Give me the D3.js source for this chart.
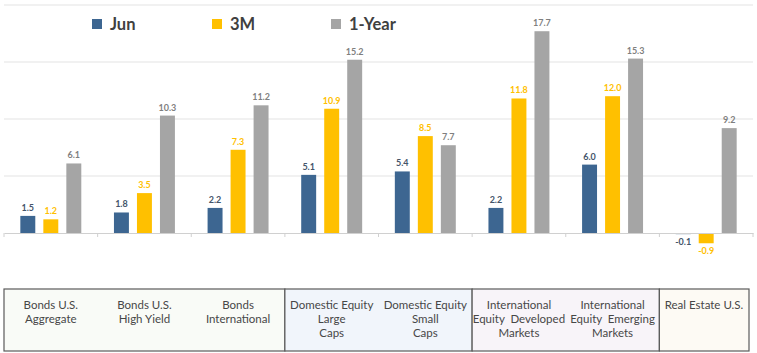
<!DOCTYPE html>
<html>
<head>
<meta charset="utf-8">
<script src="https://cdn.jsdelivr.net/npm/d3@7"></script>
<style>
  body { margin: 0; background: #fff; }
  svg { display: block; font-family: Lato, "Open Sans", sans-serif; }
</style>
</head>
<body>
<div id="chart"></div>
<script>
const categories = ["bondsAgg", "bondsHY", "bondsIntl", "domLarge", "domSmall", "intlDev", "intlEm", "realEstate"];
const seriesNames = ["Jun", "3M", "1-Year"];
const junValues = [1.5, 1.8, 2.2, 5.1, 5.4, 2.2, 6.0, -0.1];
const threeMonthValues = [1.2, 3.5, 7.3, 10.9, 8.5, 11.8, 12.0, -0.9];
const oneYearValues = [6.1, 10.3, 11.2, 15.2, 7.7, 17.7, 15.3, 9.2];
const yTicks = [0, 5, 10, 15, 20];

const categoryLabels = [
  ["Bonds U.S.", "Aggregate"],
  ["Bonds U.S.", "High Yield"],
  ["Bonds", "International"],
  ["Domestic Equity", "Large", "Caps"],
  ["Domestic Equity", "Small", "Caps"],
  ["International", "Equity  Developed", "Markets"],
  ["International", "Equity  Emerging", "Markets"],
  ["Real Estate U.S."]
];
// groups of categories in the table under the chart
const groups = [
  { from: 0, to: 2, fill: "#f9fbf7" },
  { from: 3, to: 4, fill: "#f1f5fb" },
  { from: 5, to: 6, fill: "#f8f4f9" },
  { from: 7, to: 7, fill: "#fdfaf4" }
];

const colors = { "Jun": "#3d6691", "3M": "#ffc000", "1-Year": "#a5a5a5" };
const labelColors = { "Jun": "#44546a", "3M": "#ffc000", "1-Year": "#7f7f7f" };

const width = 757, height = 353;
const svg = d3.select("#chart").append("svg")
  .attr("width", width)
  .attr("height", height);

const x0 = d3.scaleBand().domain(categories).range([4, 753]).padding(0);
const x1 = d3.scaleBand().domain(seriesNames).range([0, x0.bandwidth()])
  .paddingInner(0.35).paddingOuter(0.71);
const y = d3.scaleLinear().domain([0, 20]).range([233, 5]);

// gridlines
svg.append("g")
  .selectAll("line")
  .data(yTicks.filter(d => d !== 0))
  .join("line")
  .attr("x1", 4).attr("x2", 753)
  .attr("y1", d => y(d)).attr("y2", d => y(d))
  .attr("stroke", "#e3e3e3").attr("stroke-width", 1.2);

const data = categories.map((c, i) => ({
  cat: c,
  values: [
    { s: "Jun", v: junValues[i] },
    { s: "3M", v: threeMonthValues[i] },
    { s: "1-Year", v: oneYearValues[i] }
  ]
}));

const groupsG = svg.append("g").selectAll("g")
  .data(data)
  .join("g")
  .attr("transform", d => `translate(${x0(d.cat)},0)`);

groupsG.selectAll("rect")
  .data(d => d.values)
  .join("rect")
  .attr("x", d => x1(d.s))
  .attr("width", x1.bandwidth())
  .attr("y", d => y(Math.max(0, d.v)))
  .attr("height", d => Math.abs(y(d.v) - y(0)))
  .attr("fill", d => colors[d.s]);

groupsG.selectAll("text")
  .data(d => d.values)
  .join("text")
  .attr("x", d => x1(d.s) + x1.bandwidth() / 2)
  .attr("y", d => d.v >= 0 ? y(d.v) - 5 : y(d.v) + 11)
  .attr("text-anchor", "middle")
  .attr("font-size", 9)
  .attr("font-weight", "bold")
  .attr("fill", d => labelColors[d.s])
  .text(d => d.v.toFixed(1));

// baseline axis with ticks between categories
const axis = d3.axisBottom(x0).tickSize(0).tickFormat("");
svg.append("g")
  .attr("transform", `translate(0,${y(0)})`)
  .call(axis)
  .call(g => g.select(".domain").attr("stroke", "#d0d0d0"));
svg.append("g")
  .selectAll("line")
  .data(d3.range(categories.length + 1))
  .join("line")
  .attr("x1", i => 4 + i * x0.step()).attr("x2", i => 4 + i * x0.step())
  .attr("y1", y(0)).attr("y2", y(0) + 4)
  .attr("stroke", "#d0d0d0");

// legend
const legend = svg.append("g");
const legendX = [92, 212, 331];
seriesNames.forEach((s, i) => {
  legend.append("rect")
    .attr("x", legendX[i]).attr("y", 19)
    .attr("width", 10).attr("height", 10)
    .attr("fill", colors[s]);
  legend.append("text")
    .attr("x", legendX[i] + 18).attr("y", 29.5)
    .attr("font-size", 16.5).attr("font-weight", "bold")
    .attr("fill", "#404040")
    .text(s);
});

// category table
const tableTop = 289, tableBottom = 351;
const table = svg.append("g");
groups.forEach(g => {
  const gx0 = x0(categories[g.from]);
  const gx1 = Math.min(x0(categories[g.to]) + x0.bandwidth(), 749);
  table.append("rect")
    .attr("x", gx0).attr("y", tableTop)
    .attr("width", gx1 - gx0).attr("height", tableBottom - tableTop)
    .attr("fill", g.fill)
    .attr("stroke", "#5a5a5a").attr("stroke-width", 1.2);
});

table.selectAll("text")
  .data(categories)
  .join("text")
  .attr("text-anchor", "middle")
  .attr("font-size", 11.5)
  .attr("fill", "#474747")
  .attr("x", (d, i) => i === 7 ? 704 : x0(d) + x0.bandwidth() / 2)
  .each(function (d, i) {
    d3.select(this).selectAll("tspan")
      .data(categoryLabels[i])
      .join("tspan")
      .attr("x", i === 7 ? 704 : x0(d) + x0.bandwidth() / 2)
      .attr("y", (t, j) => 309 + j * 14)
      .attr("xml:space", "preserve")
      .text(t => t);
  });
</script>
</body>
</html>
